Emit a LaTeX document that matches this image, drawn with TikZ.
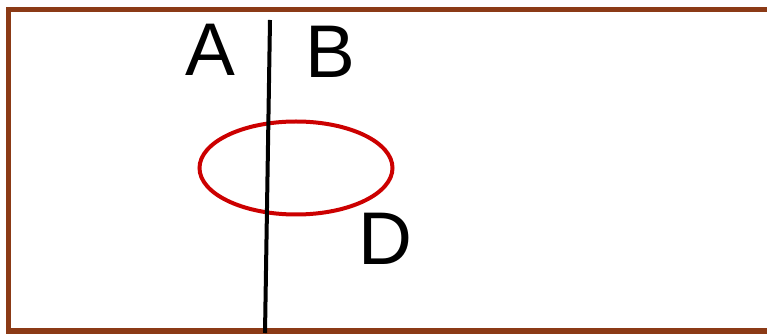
\documentclass[tikz,border=0pt]{standalone}
\usepackage{fontspec}
\setmainfont{Liberation Sans}
\usetikzlibrary{shapes.geometric,positioning}
\definecolor{framebrown}{HTML}{8B3A16}
\definecolor{ringred}{HTML}{CC0000}

\begin{document}
\begin{tikzpicture}[
    x=0.75pt, y=-0.75pt,
    frame/.style={draw=framebrown, line width=3.8pt},
    letter/.style={font=\fontsize{56}{60}\selectfont, inner sep=0pt},
    ring/.style={ellipse, draw=ringred, line width=3pt, minimum width=193pt*0.75, minimum height=93pt*0.75}
]
    \useasboundingbox (0,0) rectangle (767,334);
    % Frame
    \draw[frame] (8.5,9.5) rectangle (800,331);

    % Labels
    \node[letter] (a) at (210,50) {A};
    \node[letter] (b) at (330,52) {B};
    \node[letter] (d) at (385,239) {D};

    % Ellipse
    \node[ring] (circ) at (296,168) {};

    % Vertical line
    \coordinate (top) at (270,20);
    \coordinate (bottom) at (265,333);
    \draw[line width=3pt] (top) -- (bottom);
\end{tikzpicture}
\end{document}
